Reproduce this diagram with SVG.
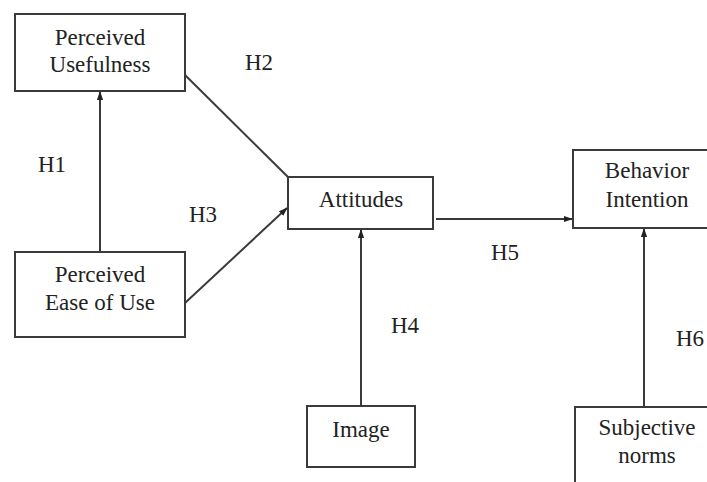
<svg xmlns="http://www.w3.org/2000/svg" width="707" height="482" viewBox="0 0 707 482">
<style>
.box{fill:#fff;stroke:#3a3a3a;stroke-width:2}
.t{font-family:'Liberation Serif','DejaVu Serif',serif;font-size:23px;fill:#222;text-anchor:middle}
.ln{stroke:#3a3a3a;stroke-width:2;fill:none}
</style>
<defs>
<marker id="ah" viewBox="0 0 10 10" refX="9" refY="5" markerWidth="4.5" markerHeight="4.5" orient="auto" markerUnits="strokeWidth">
<path d="M0,1.5 L10,5 L0,8.5 z" fill="#222"/>
</marker>
</defs>
<rect width="707" height="482" fill="#fff"/>
<g id="connectors">
<line class="ln" x1="100" y1="252" x2="100" y2="92" marker-end="url(#ah)"/>
<line class="ln" x1="185" y1="75" x2="288" y2="177"/>
<line class="ln" x1="185" y1="303" x2="287" y2="208" marker-end="url(#ah)"/>
<line class="ln" x1="436" y1="219" x2="572" y2="219" stroke-width="1.6" marker-end="url(#ah)"/>
<line class="ln" x1="361" y1="406" x2="361" y2="230" marker-end="url(#ah)"/>
<line class="ln" x1="644" y1="407" x2="644" y2="229" marker-end="url(#ah)"/>
</g>
<g id="labels">
<text class="t" x="259" y="70">H2</text>
<text class="t" x="52" y="172">H1</text>
<text class="t" x="203" y="222">H3</text>
<text class="t" x="505" y="260">H5</text>
<text class="t" x="405" y="333">H4</text>
<text class="t" x="690" y="346">H6</text>
</g>
<g id="pu">
<rect class="box" x="15" y="14" width="170" height="77"/>
<text class="t" x="100" y="45">Perceived</text>
<text class="t" x="100" y="72">Usefulness</text>
</g>
<g id="peou">
<rect class="box" x="15" y="252" width="170" height="85"/>
<text class="t" x="100" y="282">Perceived</text>
<text class="t" x="100" y="310">Ease of Use</text>
</g>
<g id="attitudes">
<rect class="box" x="288" y="177" width="145" height="52"/>
<text class="t" x="361" y="207">Attitudes</text>
</g>
<g id="behavior">
<rect class="box" x="573" y="150" width="140" height="78"/>
<text class="t" x="647" y="178">Behavior</text>
<text class="t" x="647" y="207">Intention</text>
</g>
<g id="image">
<rect class="box" x="307" y="406" width="108" height="61"/>
<text class="t" x="361" y="437">Image</text>
</g>
<g id="subjective">
<rect class="box" x="575" y="407" width="140" height="85"/>
<text class="t" x="647" y="435">Subjective</text>
<text class="t" x="647" y="463">norms</text>
</g>
</svg>
